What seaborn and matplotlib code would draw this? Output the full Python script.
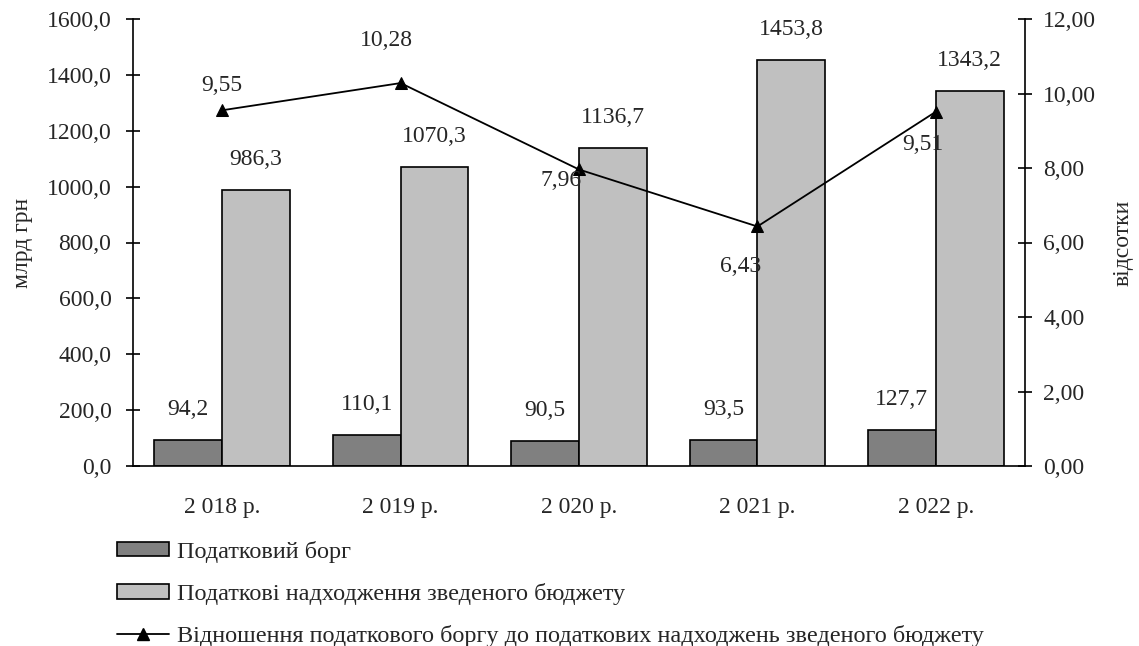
import numpy as np
import pandas as pd
import matplotlib
matplotlib.use("Agg")
import matplotlib.pyplot as plt
from matplotlib.ticker import FuncFormatter, FixedLocator, MultipleLocator
from matplotlib.patches import Patch
from matplotlib.lines import Line2D
import seaborn as sns

# --- data ---
years = ["2 018 р.", "2 019 р.", "2 020 р.", "2 021 р.", "2 022 р."]
tax_debt = [94.2, 110.1, 90.5, 93.5, 127.7]
tax_revenue = [986.3, 1070.3, 1136.7, 1453.8, 1343.2]
debt_ratio = [9.55, 10.28, 7.96, 6.43, 9.51]

name_debt = "Податковий борг"
name_rev = "Податкові надходження зведеного бюджету"
name_ratio = "Відношення податкового боргу до податкових надходжень зведеного бюджету"

# offsets (points) for the ratio labels relative to each marker
ratio_label_offsets = [(0, 17.5), (-10, 30.5), (-13, -8), (-12, -29), (-9, -23.5)]

FS = 17

sns.set_theme(style="white")
plt.rcParams["font.family"] = ["Liberation Serif", "DejaVu Serif"]
plt.rcParams["font.size"] = FS

df = pd.DataFrame({
    "year": years * 2,
    "value": tax_debt + tax_revenue,
    "series": [name_debt] * len(years) + [name_rev] * len(years),
})

fig = plt.figure(figsize=(11.39, 6.46), dpi=100)
ax = fig.add_axes([133 / 1139, 1 - 466 / 646, (1025 - 133) / 1139, (466 - 19) / 646])

bar_colors = ["#808080", "#c0c0c0"]
sns.barplot(data=df, x="year", y="value", hue="series", palette=bar_colors,
            width=0.76, gap=0, edgecolor="black", linewidth=1.2,
            ax=ax, legend=False, saturation=1)

# value labels above the bars
for cont in ax.containers:
    for rect in cont:
        h = rect.get_height()
        ax.annotate(f"{h:.1f}".replace(".", ","),
                    (rect.get_x() + rect.get_width() / 2, h),
                    xytext=(0, 22), textcoords="offset points",
                    ha="center", va="center", fontsize=FS)

ax.set_xlim(-0.5, 4.5)
ax.set_ylim(0, 1600)
ax.yaxis.set_major_locator(MultipleLocator(200))
ax.yaxis.set_major_formatter(FuncFormatter(lambda v, p: f"{v:.1f}".replace(".", ",")))
ax.set_xlabel("")
ax.set_ylabel("млрд грн", fontsize=FS, labelpad=10)

# category separators as x ticks
ax.xaxis.set_major_locator(FixedLocator(np.arange(len(years))))
ax.set_xticklabels(years)
ax.xaxis.set_minor_locator(FixedLocator(np.arange(-0.5, len(years), 1.0)))
ax.tick_params(axis="x", which="major", length=0, pad=22, labelsize=FS)
ax.tick_params(axis="x", which="minor", direction="inout", length=10, width=1.2, color="black")
ax.tick_params(axis="y", direction="inout", length=10, width=1.2, color="black",
               left=True, labelsize=FS, pad=10.5)

for side in ["top", "right"]:
    ax.spines[side].set_visible(False)
for side in ["left", "bottom"]:
    ax.spines[side].set_color("black")
    ax.spines[side].set_linewidth(1.2)

# ratio line on the secondary axis
ax2 = ax.twinx()
x_pos = np.arange(len(years))
sns.lineplot(x=x_pos, y=debt_ratio, ax=ax2, color="black", linewidth=1.3,
             marker="^", markersize=9, markeredgecolor="black", legend=False)
for xi, yi, off in zip(x_pos, debt_ratio, ratio_label_offsets):
    ax2.annotate(f"{yi:.2f}".replace(".", ","), (xi, yi), xytext=off,
                 textcoords="offset points", ha="center", va="center", fontsize=FS)

ax2.set_xlim(-0.5, 4.5)
ax2.set_ylim(0, 12)
ax2.yaxis.set_major_locator(MultipleLocator(2))
ax2.yaxis.set_major_formatter(FuncFormatter(lambda v, p: f"{v:.2f}".replace(".", ",")))
ax2.set_ylabel("відсотки", fontsize=FS, labelpad=12)
ax2.tick_params(axis="y", direction="inout", length=10, width=1.2, color="black",
                right=True, labelsize=FS, pad=8)
ax2.grid(False)
ax.grid(False)
for side in ["top", "left", "bottom"]:
    ax2.spines[side].set_visible(False)
ax2.spines["right"].set_color("black")
ax2.spines["right"].set_linewidth(1.2)

handles = [
    Patch(facecolor=bar_colors[0], edgecolor="black", linewidth=1.2, label=name_debt),
    Patch(facecolor=bar_colors[1], edgecolor="black", linewidth=1.2, label=name_rev),
    Line2D([0], [0], color="black", linewidth=1.3, marker="^", markersize=9, label=name_ratio),
]
fig.legend(handles=handles, loc="upper left", bbox_to_anchor=(107 / 1139, 1 - 531 / 646),
           frameon=False, fontsize=17.5, handlelength=2.15, handleheight=0.55,
           handletextpad=0.35, labelspacing=0.83, borderaxespad=0)

fig.savefig("out.png", dpi=100)
